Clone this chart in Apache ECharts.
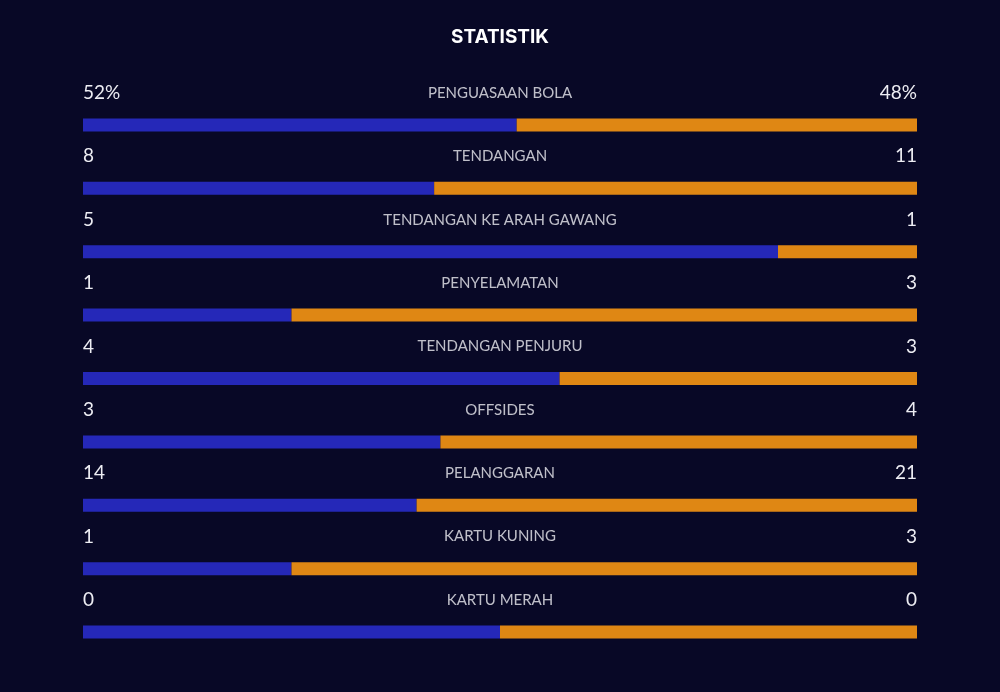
<!DOCTYPE html>
<html>
<head>
<meta charset="utf-8">
<script src="https://cdn.jsdelivr.net/npm/echarts@6/dist/echarts.min.js"></script>
<style>
  html, body { margin: 0; padding: 0; background: #080826; }
  #chart { width: 1000px; height: 692px; }
</style>
</head>
<body>
<div id="chart"></div>
<script>
var categories = ['PENGUASAAN BOLA', 'TENDANGAN', 'TENDANGAN KE ARAH GAWANG', 'PENYELAMATAN',
    'TENDANGAN PENJURU', 'OFFSIDES', 'PELANGGARAN', 'KARTU KUNING', 'KARTU MERAH'];
var homeValues = [52, 8, 5, 1, 4, 3, 14, 1, 0];
var awayValues = [48, 11, 1, 3, 3, 4, 21, 3, 0];
var units = ['%', '', '', '', '', '', '', '', ''];

// share of each side (0/0 -> half)
var homeShare = [], awayShare = [], centerPts = [];
for (var i = 0; i < categories.length; i++) {
    var tot = homeValues[i] + awayValues[i];
    var h = tot === 0 ? 0.5 : homeValues[i] / tot;
    homeShare.push(h);
    awayShare.push(1 - h);
    centerPts.push([0.5, i]);
}

var chart = echarts.init(document.getElementById('chart'));
var textColor = '#ededf3';
var option = {
    backgroundColor: '#080826',
    animation: false,
    title: {
        text: 'STATISTIK',
        left: 'center',
        top: 23,
        textStyle: { color: '#ffffff', fontSize: 19, fontWeight: 'bold', fontFamily: 'Inter' }
    },
    grid: { left: 83, right: 83, top: 93.3, bottom: 28.3 },
    xAxis: { type: 'value', min: 0, max: 1, show: false },
    yAxis: { type: 'category', data: categories, inverse: true, show: false },
    series: [
        {
            name: 'home', type: 'bar', stack: 's', barWidth: 13,
            data: homeShare,
            itemStyle: { color: '#2528b8' },
            label: {
                show: true, position: [0, -25.5], align: 'left', verticalAlign: 'middle',
                color: textColor, fontSize: 19, fontFamily: 'Lato',
                formatter: function (p) { return homeValues[p.dataIndex] + units[p.dataIndex]; }
            }
        },
        {
            name: 'away', type: 'bar', stack: 's', barWidth: 13,
            data: awayShare,
            itemStyle: { color: '#df8714' },
            label: {
                show: true, position: ['100%', -25.5], align: 'right', verticalAlign: 'middle',
                color: textColor, fontSize: 19, fontFamily: 'Lato',
                formatter: function (p) { return awayValues[p.dataIndex] + units[p.dataIndex]; }
            }
        },
        {
            name: 'label', type: 'scatter', symbolSize: 0, silent: true,
            data: centerPts,
            label: {
                show: true, position: 'inside', offset: [0, -32],
                color: textColor, fontSize: 15, fontFamily: 'Lato',
                formatter: function (p) { return categories[p.dataIndex]; }
            }
        }
    ]
};
chart.setOption(option);
</script>
</body>
</html>
